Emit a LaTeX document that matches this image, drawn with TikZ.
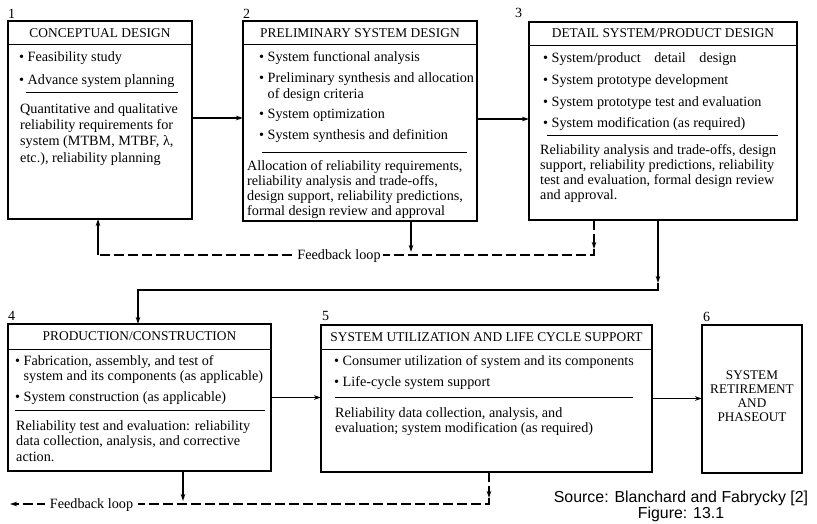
\documentclass[tikz,border=0pt]{standalone}
\usepackage{fontspec}
\setmainfont{Liberation Serif}
\newfontfamily\srcfont{Liberation Sans}
\usetikzlibrary{arrows.meta}

% type sizes
\newcommand\bodyfont{\fontsize{14.2}{15.5}\selectfont}
\newcommand\headfont{\fontsize{13.4}{15}\selectfont}
\newcommand\numfont{\fontsize{14}{14}\selectfont}
\newcommand\capfont{\fontsize{13.2}{14}\selectfont}
% fixes the height of the first line of a text block
\newcommand\firstline{\rule{0pt}{10.5pt}}
\newcommand\bul{\textbullet\ }
\newcommand\hang{\phantom{\textbullet\ }}

\tikzset{
  box/.style={draw, line width=1.1pt, anchor=north west, inner sep=0pt, outer sep=0pt},
  head/.style={font=\headfont, anchor=base, inner sep=0pt},
  blk/.style={font=\bodyfont, anchor=north west, inner sep=0pt, align=left},
  num/.style={font=\numfont, anchor=base west, inner sep=0pt},
  sep/.style={line width=1pt},
  arr/.style={line width=1.1pt, -{Stealth[length=7pt,width=4.5pt]}},
  fbk/.style={line width=1.1pt, dash pattern=on 10pt off 4pt},
  lbl/.style={font=\bodyfont, fill=white, inner xsep=2pt, inner ysep=1pt},
}

\begin{document}
\begin{tikzpicture}[x=1pt, y=-1pt]
\fill[white] (0,0) rectangle (817,523);
\useasboundingbox (0,0) rectangle (817,523);

% ---------- 1: conceptual design
\node[box, minimum width=184pt, minimum height=198pt] (b1) at (8,21) {};
\node[num] (n1) at (8,18) {1};
\node[head] (h1) at (b1.north |- 0,37.5) {CONCEPTUAL DESIGN};
\draw[sep] (b1.west |- 0,44) -- (b1.east |- 0,44);
\node[blk] (i1) at (19,51) {\firstline\bul Feasibility study\\[7.4pt]
  \bul Advance system planning};
\draw[sep] (26,92) -- (178,92);
\node[blk] (t1) at (20,103) {\firstline Quantitative and qualitative\\[0.6pt]
  reliability requirements for\\[0.6pt]
  system (MTBM, MTBF, λ,\\[0.6pt]
  etc.), reliability planning};

% ---------- 2: preliminary system design
\node[box, minimum width=234pt, minimum height=200pt] (b2) at (243,21) {};
\node[num] (n2) at (243,18) {2};
\node[head] (h2) at (b2.north |- 0,37.5) {PRELIMINARY SYSTEM DESIGN};
\draw[sep] (b2.west |- 0,44) -- (b2.east |- 0,44);
\node[blk] (i2) at (259,51) {\firstline\bul System functional analysis\\[5.5pt]
  \bul Preliminary synthesis and allocation\\
  \hang of design criteria\\[5pt]
  \bul System optimization\\[5.5pt]
  \bul System synthesis and definition};
\draw[sep] (262,152) -- (467,152);
\node[blk] (t2) at (247,159.5) {\firstline Allocation of reliability requirements,\\[-0.5pt]
  reliability analysis and trade-offs,\\[-0.5pt]
  design support, reliability predictions,\\[-0.5pt]
  formal design review and approval};

% ---------- 3: detail system/product design
\node[box, minimum width=268pt, minimum height=198pt] (b3) at (529,22) {};
\node[num] (n3) at (515,17) {3};
\node[head] (h3) at (b3.north |- 0,37.5) {DETAIL SYSTEM/PRODUCT DESIGN};
\draw[sep] (b3.west |- 0,45) -- (b3.east |- 0,45);
\node[blk] (i3) at (543,52) {\firstline\bul System/product\hspace{0.7em} detail\hspace{0.7em} design\\[6.2pt]
  \bul System prototype development\\[6.2pt]
  \bul System prototype test and evaluation\\[6.2pt]
  \bul System modification (as required)};
\draw[sep] (547,135) -- (778,135);
\node[blk] (t3) at (540,143.5) {\firstline Reliability analysis and trade-offs, design\\[-0.3pt]
  support, reliability predictions, reliability\\[-0.3pt]
  test and evaluation, formal design review\\[-0.3pt]
  and approval.};

% ---------- 4: production/construction
\node[box, minimum width=263pt, minimum height=147pt] (b4) at (8,324) {};
\node[num] (n4) at (8,320) {4};
\node[head] (h4) at (b4.north |- 0,340.5) {PRODUCTION/CONSTRUCTION};
\draw[sep] (b4.west |- 0,349) -- (b4.east |- 0,349);
\node[blk] (i4) at (15,355) {\firstline\bul Fabrication, assembly, and test of\\[-1pt]
  \hang system and its components (as applicable)\\[5.5pt]
  \bul System construction (as applicable)};
\draw[sep] (15,410) -- (265,410);
\node[blk] (t4) at (16,419.5) {\firstline Reliability test and evaluation: reliability\\
  data collection, analysis, and corrective\\
  action.};

% ---------- 5: utilization and life cycle support
\node[box, minimum width=331pt, minimum height=147pt] (b5) at (321,325) {};
\node[num] (n5) at (322,320) {5};
\node[head] (h5) at (b5.north |- 0,341.5) {SYSTEM UTILIZATION AND LIFE CYCLE SUPPORT};
\draw[sep] (b5.west |- 0,349) -- (b5.east |- 0,349);
\node[blk] (i5) at (334,355) {\firstline\bul Consumer utilization of system and its components\\[5.5pt]
  \bul Life-cycle system support};
\draw[sep] (335,397) -- (633,397);
\node[blk] (t5) at (335,406.5) {\firstline Reliability data collection, analysis, and\\
  evaluation; system modification (as required)};

% ---------- 6: retirement and phaseout
\node[box, minimum width=100pt, minimum height=148pt] (b6) at (702,325) {};
\node[num] (n6) at (703,321) {6};
\node[font=\capfont, align=center, inner sep=0pt] (t6) at (752,396)
  {SYSTEM\\RETIREMENT\\AND\\PHASEOUT};

% ---------- main flow
\draw[arr] ([yshift=2pt]b1.east) -- ([yshift=2pt]b1.east -| b2.west);
\draw[arr] ([yshift=2pt]b2.east) -- ([yshift=2pt]b2.east -| b3.west);
\draw[arr] (b4.east) -- (b4.east -| b5.west);
\draw[arr] (b5.east) -- (b5.east -| b6.west);

\coordinate (c3) at (658,290);
\coordinate (c4) at (138,290);
\draw[arr] (b3.south -| c3) -- ([yshift=7pt]c3);
\draw[arr] ([yshift=7pt]c3) -- (c3) -- (c4) -- (b4.north -| c4);

% ---------- upper feedback loop
\coordinate (f3) at (594,255);
\coordinate (f2) at (411,255);
\coordinate (f1) at (98,255);
\draw[fbk, arr] (b3.south -| f3) -- ([yshift=6pt]f3);
\draw[fbk] ([yshift=6pt]f3) -- (f3) -- (f1);
\draw[arr] (f1) -- (b1.south -| f1);
\draw[arr] (b2.south -| f2) -- ([yshift=3pt]f2);
\node[lbl] (fl1) at (339,256) {Feedback loop};

% ---------- lower feedback loop
\coordinate (g5) at (489,504);
\coordinate (g4) at (183,504);
\coordinate (g0) at (10,504);
\draw[fbk, arr] (b5.south -| g5) -- ([yshift=6pt]g5);
\draw[fbk, arr] ([yshift=6pt]g5) -- (g5) -- (g0);
\draw[arr] (b4.south -| g4) -- ([yshift=3pt]g4);
\node[lbl, inner xsep=5pt] (fl2) at (91.5,505) {Feedback loop};

% ---------- source line
\node[font=\srcfont\fontsize{15.9}{16}\selectfont, align=center, inner sep=0pt] (src) at (681,506)
  {Source: Blanchard and Fabrycky [2]\\Figure: 13.1};
\end{tikzpicture}
\end{document}
